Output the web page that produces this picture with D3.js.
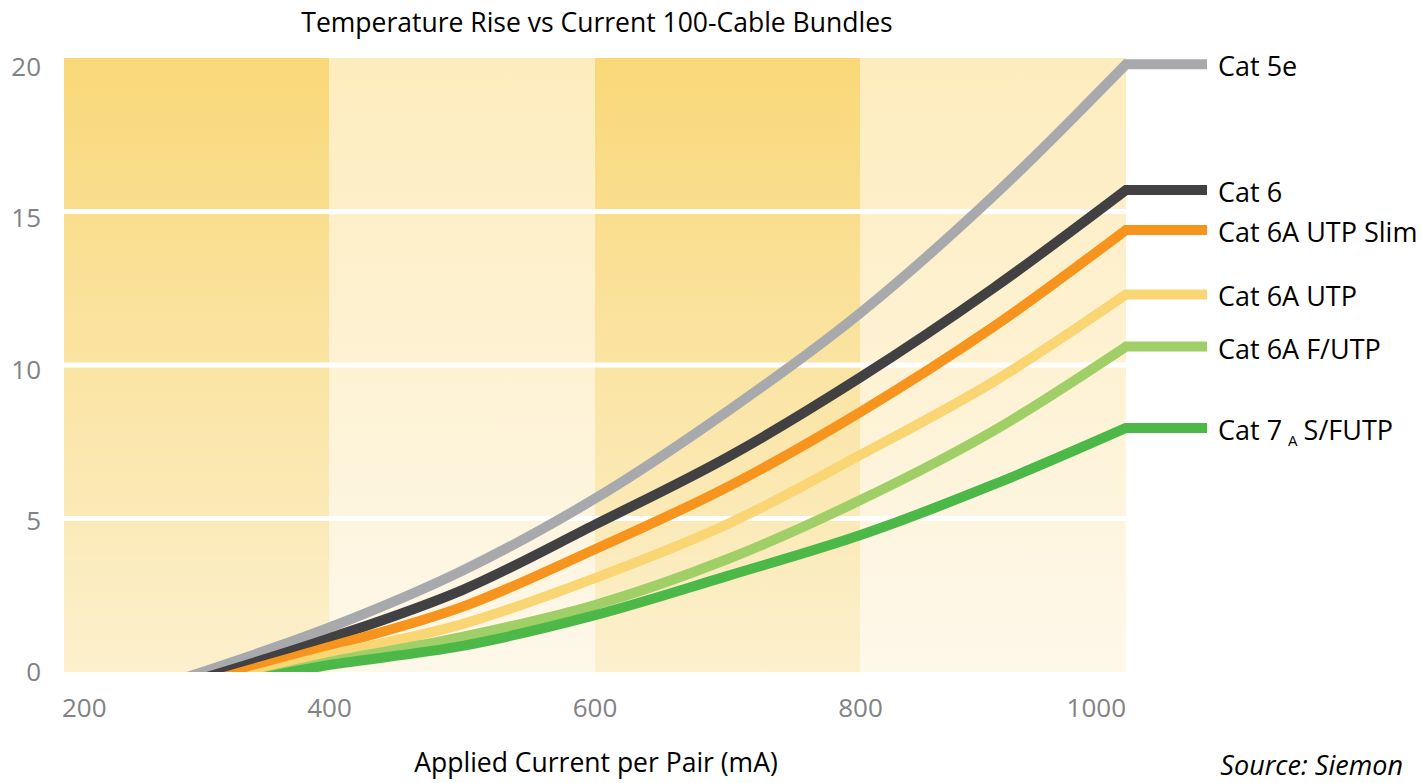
<!DOCTYPE html>
<html>
<head>
<meta charset="utf-8">
<script src="https://cdn.jsdelivr.net/npm/d3@7"></script>
<style>
  body { margin: 0; background: #fff; }
  svg { display: block; font-family: "Open Sans", "Noto Sans", sans-serif; }
</style>
</head>
<body>
<div class="container"></div>
<script>
// chart values
var currents = [400, 500, 600, 700, 800, 900, 1000];
var cat5e      = [1.45, 3.3, 5.65, 8.5, 11.7, 15.5, 19.8];
var cat6       = [1.1, 2.67, 4.8, 7.0, 9.6, 12.5, 15.7];
var cat6aSlim  = [0.82, 2.12, 4.0, 6.03, 8.47, 11.24, 14.4];
var cat6aUtp   = [0.55, 1.56, 3.06, 4.82, 7.07, 9.45, 12.3];
var cat6aFutp  = [0.33, 1.14, 2.18, 3.68, 5.6, 7.85, 10.6];
var cat7a      = [0.23, 0.85, 1.85, 3.13, 4.46, 6.1, 7.95];
// where each curve dips under the zero line (mA)
var startCurrents = [293, 308, 321, 338, 350, 352];

var seriesNames = ["Cat 5e", "Cat 6", "Cat 6A UTP Slim", "Cat 6A UTP", "Cat 6A F/UTP", "Cat 7A S/FUTP"];
var seriesColors = ["#a7a9ac", "#414042", "#f7941d", "#f9d673", "#a0cf67", "#4cb848"];
var xTicks = [200, 400, 600, 800, 1000];
var yTicks = [0, 5, 10, 15, 20];

var width = 1422, height = 783;
var margin = {left: 64, right: 296, top: 58, bottom: 111};

var svg = d3.select(".container").append("svg")
  .attr("width", width).attr("height", height);

var x = d3.scaleLinear().domain([200, 1000]).range([margin.left, width - margin.right]);
var y = d3.scaleLinear().domain([0, 20]).range([height - margin.bottom, margin.top]);
// tick labels sit a little lower than the grid toward the top
var yLabel = d3.scaleLinear().domain([0, 20]).range([height - margin.bottom, 67]);

// background columns with vertical fade
var defs = svg.append("defs");
function grad(id, top, bottom) {
  var g = defs.append("linearGradient").attr("id", id)
    .attr("x1", 0).attr("y1", 0).attr("x2", 0).attr("y2", 1);
  g.append("stop").attr("offset", "0%").attr("stop-color", top);
  g.append("stop").attr("offset", "100%").attr("stop-color", bottom);
}
grad("darkCol", "#f9d878", "#fcf0cd");
grad("lightCol", "#fdecbd", "#fef8ea");

var cols = [[200, 400], [400, 600], [600, 800], [800, 1000]];
svg.append("g").selectAll("rect").data(cols).enter().append("rect")
  .attr("x", function(d) { return x(d[0]); })
  .attr("y", y(20))
  .attr("width", function(d) { return x(d[1]) - x(d[0]); })
  .attr("height", y(0) - y(20))
  .attr("fill", function(d, i) { return i % 2 == 0 ? "url(#darkCol)" : "url(#lightCol)"; });

// white grid lines
svg.append("g").selectAll("line").data([5, 10, 15]).enter().append("line")
  .attr("x1", x(200)).attr("x2", x(1000))
  .attr("y1", function(d) { return y(d); }).attr("y2", function(d) { return y(d); })
  .attr("stroke", "#fff").attr("stroke-width", 5);

// y tick labels
svg.append("g").selectAll("text").data(yTicks).enter().append("text")
  .attr("x", 41).attr("y", function(d) { return yLabel(d) + 9; })
  .attr("text-anchor", "end")
  .attr("fill", "#808285").attr("font-size", 26)
  .text(function(d) { return d; });

// x tick labels
svg.append("g").selectAll("text").data(xTicks).enter().append("text")
  .attr("x", function(d, i) { return i == 0 ? x(d) - 2 : x(d); })
  .attr("y", 717)
  .attr("text-anchor", function(d, i) { return i == 0 ? "start" : (i == xTicks.length - 1 ? "end" : "middle"); })
  .attr("fill", "#808285").attr("font-size", 26)
  .text(function(d) { return d; });

// curves, clipped at the zero line, with a flat legend stub on the right
svg.append("clipPath").attr("id", "plotClip").append("rect")
  .attr("x", 0).attr("y", 0).attr("width", width).attr("height", y(0));

var allSeries = [cat5e, cat6, cat6aSlim, cat6aUtp, cat6aFutp, cat7a];
var line = d3.line()
  .x(function(d) { return x(d[0]); })
  .y(function(d) { return y(d[1]); })
  .curve(d3.curveCatmullRom.alpha(0.5));
var stubEnd = x(1000) + 81;

var curves = svg.append("g").attr("clip-path", "url(#plotClip)");
allSeries.forEach(function(vals, i) {
  var pts = [[startCurrents[i], -0.16]];
  currents.forEach(function(c, j) { pts.push([c, vals[j]]); });
  var endY = y(vals[vals.length - 1]);
  curves.append("path")
    .attr("d", line(pts) + "L" + stubEnd + "," + endY)
    .attr("fill", "none")
    .attr("stroke", seriesColors[i])
    .attr("stroke-width", 10)
    .attr("stroke-linejoin", "miter");
});

// legend labels
var labels = svg.append("g").attr("font-size", 27).attr("fill", "#000");
allSeries.forEach(function(vals, i) {
  var t = labels.append("text")
    .attr("x", stubEnd + 11)
    .attr("y", y(vals[vals.length - 1]) + 12);
  if (i == 5) {
    t.append("tspan").text("Cat 7");
    t.append("tspan").attr("font-size", 15).attr("dx", 6).attr("dy", 6).text("A");
    t.append("tspan").attr("dx", 6).attr("dy", -6).text("S/FUTP");
  } else {
    t.text(seriesNames[i]);
  }
});

// title and axis title
svg.append("text").attr("x", 597).attr("y", 32)
  .attr("text-anchor", "middle").attr("font-size", 26.5).attr("fill", "#000")
  .text("Temperature Rise vs Current 100-Cable Bundles");

svg.append("text").attr("x", 596).attr("y", 772)
  .attr("text-anchor", "middle").attr("font-size", 26.5).attr("fill", "#000")
  .text("Applied Current per Pair (mA)");

svg.append("text").attr("x", 1403).attr("y", 775)
  .attr("text-anchor", "end").attr("font-size", 27).attr("font-style", "italic").attr("fill", "#000")
  .text("Source: Siemon");
</script>
</body>
</html>
